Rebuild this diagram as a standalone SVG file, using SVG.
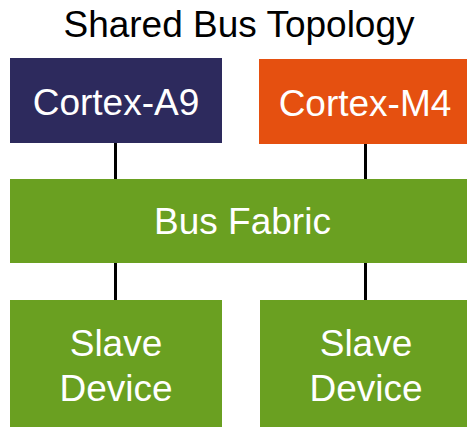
<svg xmlns="http://www.w3.org/2000/svg" width="467" height="427" viewBox="0 0 467 427">
<style>
text{font-family:"Liberation Sans",Arial,sans-serif;text-anchor:middle}
.t{fill:#000;font-size:37px}
.n{fill:#fff;font-size:37px}
.c{stroke:#000;stroke-width:3;fill:none}
</style>
<rect width="467" height="427" fill="#fff"/>
<text class="t" x="239" y="37">Shared Bus Topology</text>
<g id="connectors">
<line class="c" x1="115.5" y1="143" x2="115.5" y2="179"/>
<line class="c" x1="365.5" y1="144" x2="365.5" y2="179"/>
<line class="c" x1="115.5" y1="263" x2="115.5" y2="300"/>
<line class="c" x1="365.5" y1="263" x2="365.5" y2="300"/>
</g>
<g id="cortex-a9">
<rect x="10" y="58" width="212" height="85" fill="#2D2A5D"/>
<text class="n" x="116" y="115">Cortex-A9</text>
</g>
<g id="cortex-m4">
<rect x="259" y="59" width="214" height="85" fill="#E55010"/>
<text class="n" x="365" y="116">Cortex-M4</text>
</g>
<g id="bus-fabric">
<rect x="10" y="179" width="465" height="84" fill="#6AA021"/>
<text class="n" x="242.5" y="234">Bus Fabric</text>
</g>
<g id="slave-1">
<rect x="10" y="300" width="212" height="130" fill="#6AA021"/>
<text class="n" x="116" y="356">Slave</text>
<text class="n" x="116" y="401">Device</text>
</g>
<g id="slave-2">
<rect x="260" y="300" width="214" height="130" fill="#6AA021"/>
<text class="n" x="366" y="356">Slave</text>
<text class="n" x="366" y="401">Device</text>
</g>
</svg>
